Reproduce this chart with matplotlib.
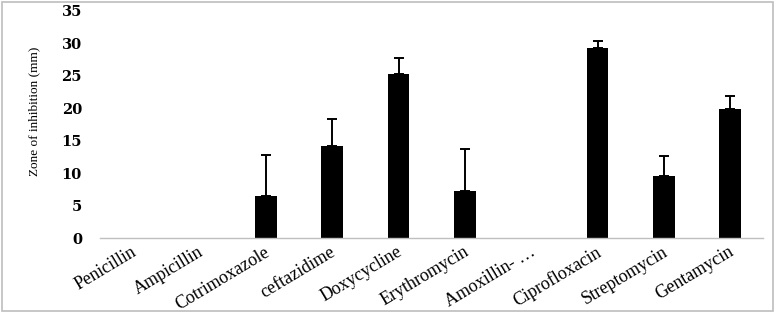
import matplotlib
matplotlib.use("Agg")
import matplotlib.pyplot as plt
import matplotlib.transforms as mtransforms
import numpy as np

antibiotics = ["Penicillin", "Ampicillin", "Cotrimoxazole", "ceftazidime", "Doxycycline",
               "Erythromycin", "Amoxillin- \u2026", "Ciprofloxacin", "Streptomycin", "Gentamycin"]
zone_mm = [0, 0, 6.5, 14.2, 25.3, 7.25, 0, 29.25, 9.55, 19.95]
zone_sd = [0, 0, 6.25, 4.1, 2.45, 6.4, 0, 1.15, 3.15, 2.0]

fig = plt.figure(figsize=(7.75, 3.12), dpi=100)
ax = fig.add_axes([0.129, 0.237, 0.856, 0.728])

x = np.arange(len(antibiotics))
ax.bar(x, zone_mm, width=0.33, color="black")

# only the upper half of the error bar, and none for the empty bars
has_err = [i for i, e in enumerate(zone_sd) if e > 0]
ax.errorbar([x[i] for i in has_err], [zone_mm[i] for i in has_err],
            yerr=[[0] * len(has_err), [zone_sd[i] for i in has_err]],
            fmt="none", ecolor="black", elinewidth=1.4, capsize=3.5, capthick=1.4)

ax.set_xlim(-0.5, len(antibiotics) - 0.5)
ax.set_ylim(0, 35)
ax.set_yticks(np.arange(0, 36, 5))
ax.set_yticklabels([str(v) for v in range(0, 36, 5)], family="DejaVu Serif",
                   fontsize=10.5, fontweight="semibold")
ax.tick_params(axis="y", length=0, pad=13)
ax.tick_params(axis="x", length=0, pad=1)
ax.set_xticks(x)
ax.set_xticklabels(antibiotics, rotation=31, ha="right", va="top", rotation_mode="anchor",
                   family="Liberation Serif", fontsize=13)
shift = mtransforms.ScaledTranslation(-0.02, -0.04, fig.dpi_scale_trans)
for lbl in ax.get_xticklabels():
    lbl.set_transform(lbl.get_transform() + shift)

ax.set_ylabel("Zone of inhibition (mm)", family="Liberation Serif", fontsize=9.5)
ax.yaxis.set_label_coords(-0.09, 0.56)

for side in ["top", "right", "left"]:
    ax.spines[side].set_visible(False)
ax.spines["bottom"].set_color("#bfbfbf")
ax.spines["bottom"].set_linewidth(1.0)

# grey frame round the whole picture
fig.patches.append(plt.Rectangle((0.002, 0.004), 0.995, 0.99, transform=fig.transFigure,
                                 fill=False, edgecolor="#bdbdbd", linewidth=1.2))

fig.savefig("out.png", dpi=100)
